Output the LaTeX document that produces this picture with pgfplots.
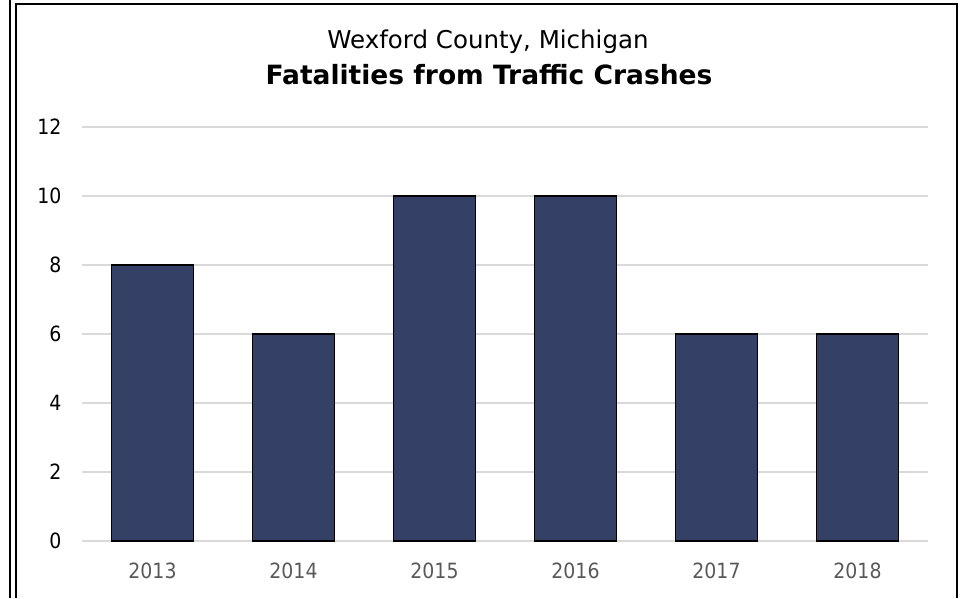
\documentclass[border=0pt]{standalone}
\usepackage{pgfplots}
\pgfplotsset{compat=1.18}
\usepackage{fontspec}
\setmainfont{DejaVu Sans Condensed}
\newfontfamily\titlefont{DejaVu Sans}
\definecolor{barblue}{HTML}{344066}
\definecolor{gridgray}{HTML}{D9D9D9}
\definecolor{labelgray}{HTML}{595959}
\begin{document}
\begin{tikzpicture}[x=1pt,y=1pt]
\path[use as bounding box] (0,0) rectangle (965,598);
% outer frame lines
\draw[line width=2pt] (10,0) -- (10,598);
\draw[line width=2pt] (16,0) -- (16,594) -- (957,594) -- (957,0);
\node[anchor=base, font=\titlefont\fontsize{24.5}{29}\selectfont] at (488,549) {Wexford County, Michigan};
\node[anchor=base, font=\titlefont\fontsize{26.5}{32}\selectfont\bfseries] at (489,513) {Fatalities from Traffic Crashes};
\begin{axis}[
    at={(82pt,57pt)}, anchor=south west,
    scale only axis, width=846pt, height=414pt,
    xmin=-0.5, xmax=5.5, ymin=0, ymax=12,
    ybar, bar width=82pt,
    xtick=data,
    xticklabels={2013,2014,2015,2016,2017,2018},
    ytick={0,2,...,12},
    ymajorgrids,
    grid style={draw=gridgray, line width=1.5pt},
    axis line style={draw=none},
    major tick length=0pt,
    /pgf/number format/assume math mode=true,
    yticklabel style={font=\fontsize{21}{25}\selectfont, text=black, xshift=-17pt},
    xticklabel style={font=\fontsize{21}{25}\selectfont, text=labelgray, anchor=base, yshift=-37pt},
]
\addplot[fill=barblue, draw=black, line width=1.5pt] coordinates {
    (0,8) (1,6) (2,10) (3,10) (4,6) (5,6)
};
\end{axis}
\end{tikzpicture}
\end{document}
